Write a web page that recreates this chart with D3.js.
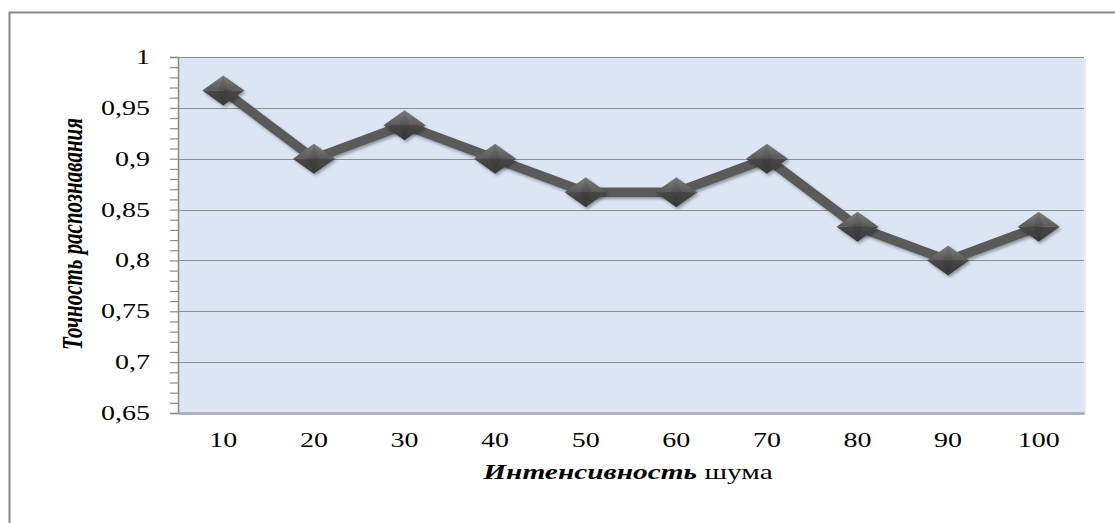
<!DOCTYPE html>
<html>
<head>
<meta charset="utf-8">
<script src="https://cdn.jsdelivr.net/npm/d3@7"></script>
<style>
  html, body { margin: 0; padding: 0; background: #fff; }
  svg { display: block; }
</style>
</head>
<body>
<svg id="chart" width="1115" height="523"></svg>
<script>
// Noise intensity levels and recognition accuracy
const categories = ["10", "20", "30", "40", "50", "60", "70", "80", "90", "100"];
const accuracy = [0.967, 0.9, 0.933, 0.9, 0.867, 0.867, 0.9, 0.833, 0.8, 0.833];
const yTicks = [0.65, 0.7, 0.75, 0.8, 0.85, 0.9, 0.95, 1];
const yTickLabels = ["0,65", "0,7", "0,75", "0,8", "0,85", "0,9", "0,95", "1"];

const FONT = "'Liberation Serif', 'Times New Roman', Tinos, 'DejaVu Serif', serif";
const SX = 1.4; // horizontal stretch of the lettering

const svg = d3.select("#chart");
const W = 1115, H = 523;
const plot = { left: 178, top: 57, right: 1084, bottom: 413 };

// outer chart frame (runs off the right and bottom edges)
svg.append("rect")
  .attr("x", 9.5).attr("y", 12.5)
  .attr("width", W + 20).attr("height", H + 20)
  .attr("fill", "#fff").attr("stroke", "#888").attr("stroke-width", 2);

const defs = svg.append("defs");
const shadow = defs.append("filter").attr("id", "markShadow")
  .attr("x", "-50%").attr("y", "-50%").attr("width", "200%").attr("height", "200%");
shadow.append("feDropShadow").attr("dx", 1.5).attr("dy", 2).attr("stdDeviation", 1.6)
  .attr("flood-color", "#000").attr("flood-opacity", 0.35);

const grad = defs.append("linearGradient").attr("id", "diamondTop")
  .attr("x1", 0).attr("y1", 0).attr("x2", 0).attr("y2", 1);
grad.append("stop").attr("offset", "0%").attr("stop-color", "#7e7e7e");
grad.append("stop").attr("offset", "100%").attr("stop-color", "#595959");
const gradB = defs.append("linearGradient").attr("id", "diamondBottom")
  .attr("x1", 0).attr("y1", 0).attr("x2", 0).attr("y2", 1);
gradB.append("stop").attr("offset", "0%").attr("stop-color", "#474747");
gradB.append("stop").attr("offset", "100%").attr("stop-color", "#3a3a3a");

const x = d3.scaleBand().domain(categories).range([plot.left, plot.right]);
const y = d3.scaleLinear().domain([0.65, 1]).range([plot.bottom, plot.top]);

// plot area background with slight shadow
svg.append("rect")
  .attr("x", plot.left + 2).attr("y", plot.top + 2)
  .attr("width", plot.right - plot.left).attr("height", plot.bottom - plot.top)
  .attr("fill", "#e8ecf2");
svg.append("rect")
  .attr("x", plot.left).attr("y", plot.top)
  .attr("width", plot.right - plot.left).attr("height", plot.bottom - plot.top)
  .attr("fill", "#dbe5f3");

// horizontal gridlines
svg.append("g").selectAll("line")
  .data(yTicks.filter(v => v > 0.65))
  .join("line")
  .attr("x1", plot.left).attr("x2", plot.right)
  .attr("y1", d => Math.round(y(d)) + 0.5).attr("y2", d => Math.round(y(d)) + 0.5)
  .attr("stroke", "#8d8d8d").attr("stroke-width", 1.2);

// y axis with minor ticks
const yAxis = d3.axisLeft(y)
  .tickValues(d3.range(0, 36).map(i => 0.65 + i * 0.01))
  .tickSize(8).tickFormat("");
const yg = svg.append("g").attr("transform", `translate(${plot.left},0)`).call(yAxis);
yg.select(".domain").attr("stroke", "#8a8a8a").attr("stroke-width", 1.5);
yg.selectAll(".tick line").attr("stroke", "#8a8a8a").attr("stroke-width", 1.2);

// y tick labels
svg.append("g").selectAll("text")
  .data(yTicks)
  .join("text")
  .attr("transform", d => `translate(150,${y(d)}) scale(${SX},1)`)
  .attr("dy", "0.35em")
  .attr("text-anchor", "end")
  .attr("font-family", FONT)
  .attr("font-size", 20)
  .attr("fill", "#000")
  .text((d, i) => yTickLabels[i]);

// x axis baseline
const xAxis = d3.axisBottom(x).tickSize(0).tickFormat("");
const xg = svg.append("g").attr("transform", `translate(0,${plot.bottom})`).call(xAxis);
xg.select(".domain").attr("stroke", "#a3a9b3").attr("stroke-width", 2.5);

// x tick labels
svg.append("g").selectAll("text")
  .data(categories)
  .join("text")
  .attr("transform", d => `translate(${x(d) + x.bandwidth() / 2},447) scale(${SX},1)`)
  .attr("text-anchor", "middle")
  .attr("font-family", FONT)
  .attr("font-size", 20)
  .attr("fill", "#000")
  .text(d => d);

// series line
const line = d3.line()
  .x((d, i) => x(categories[i]) + x.bandwidth() / 2)
  .y(d => y(d));
svg.append("path")
  .datum(accuracy)
  .attr("d", line)
  .attr("fill", "none")
  .attr("stroke", "#5a5a5a")
  .attr("stroke-width", 9.5)
  .attr("stroke-linejoin", "miter")
  .attr("filter", "url(#markShadow)");

// diamond markers
const hw = 21, hh = 15;
const markers = svg.append("g").selectAll("g")
  .data(accuracy)
  .join("g")
  .attr("transform", (d, i) => `translate(${x(categories[i]) + x.bandwidth() / 2},${y(d)})`)
  .attr("filter", "url(#markShadow)");
markers.append("path")
  .attr("d", `M${-hw},0 L0,${-hh} L${hw},0 Z`)
  .attr("fill", "url(#diamondTop)");
markers.append("path")
  .attr("d", `M${-hw},0 L${hw},0 L0,${hh} Z`)
  .attr("fill", "url(#diamondBottom)");
markers.append("path")
  .attr("d", `M0,${-hh} L${hw * 0.25},0 L0,${hh} L${-hw * 0.25},0 Z`)
  .attr("fill", "#000").attr("opacity", 0.08);

// axis titles
svg.append("text")
  .attr("transform", `translate(82,234) scale(${SX},1) rotate(-90)`)
  .attr("text-anchor", "middle")
  .attr("font-family", FONT)
  .attr("font-size", 21)
  .attr("font-weight", "bold")
  .attr("font-style", "italic")
  .attr("fill", "#000")
  .text("Точность распознавания");

const xt = svg.append("text")
  .attr("transform", `translate(628,479) scale(${SX},1)`)
  .attr("text-anchor", "middle")
  .attr("font-family", FONT)
  .attr("font-size", 21)
  .attr("fill", "#000");
xt.append("tspan").attr("font-weight", "bold").attr("font-style", "italic").text("Интенсивность");
xt.append("tspan").text(" шума");
</script>
</body>
</html>
